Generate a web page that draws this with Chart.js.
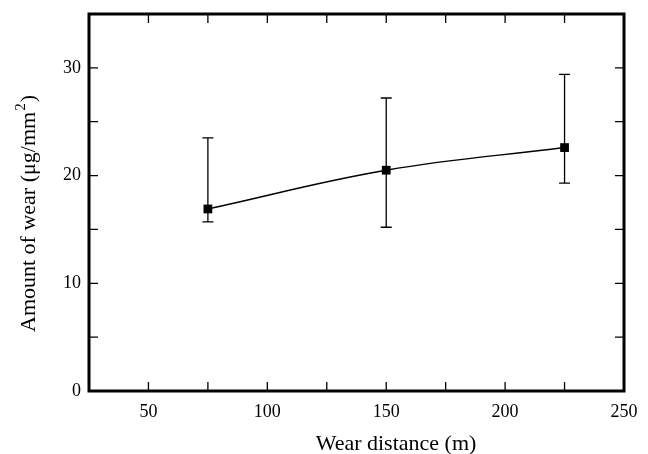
<!DOCTYPE html>
<html lang="en">
<head>
    <meta charset="UTF-8">
    <title>Amount of wear</title>
    <script src="https://cdn.jsdelivr.net/npm/chart.js"></script>
    <style>
        body { margin: 0; background: #fff; }
        #wrap { width: 648px; height: 454px; }
    </style>
</head>
<body>
    <div id="wrap"><canvas id="wearChart"></canvas></div>

    <script>
        // data
        const distance = [75, 150, 225];
        const wear = [16.9, 20.5, 22.6];
        const wearHigh = [23.5, 27.2, 29.4];
        const wearLow = [15.7, 15.2, 19.3];

        const xTitle = 'Wear distance (m)';
        const yTitle = ['Amount of wear (\u03bcg/mm', '2', ')'];

        const serif = '"Liberation Serif", "Times New Roman", serif';

        // frame, inward ticks on four sides, error bars, axis titles
        const framePlugin = {
            id: 'frame',
            beforeDatasetsDraw(chart) {
                const ctx = chart.ctx;
                const x = chart.scales.x, y = chart.scales.y;
                ctx.save();
                ctx.strokeStyle = '#000';
                ctx.lineWidth = 1.3;
                for (let i = 0; i < distance.length; i++) {
                    const px = x.getPixelForValue(distance[i]);
                    const top = y.getPixelForValue(wearHigh[i]);
                    const bot = y.getPixelForValue(wearLow[i]);
                    ctx.beginPath();
                    ctx.moveTo(px, top); ctx.lineTo(px, bot);
                    ctx.moveTo(px - 5.5, top); ctx.lineTo(px + 5.5, top);
                    ctx.moveTo(px - 5.5, bot); ctx.lineTo(px + 5.5, bot);
                    ctx.stroke();
                }
                ctx.restore();
            },
            afterDraw(chart) {
                const ctx = chart.ctx;
                const a = chart.chartArea;
                const x = chart.scales.x, y = chart.scales.y;
                const len = 9;
                ctx.save();
                ctx.strokeStyle = '#000';
                ctx.lineWidth = 1.3;
                ctx.beginPath();
                x.ticks.forEach(t => {
                    const px = x.getPixelForValue(t.value);
                    if (px <= a.left + 2 || px >= a.right - 2) return;
                    ctx.moveTo(px, a.bottom); ctx.lineTo(px, a.bottom - len);
                    ctx.moveTo(px, a.top); ctx.lineTo(px, a.top + len);
                });
                y.ticks.forEach(t => {
                    const py = y.getPixelForValue(t.value);
                    if (py <= a.top + 2 || py >= a.bottom - 2) return;
                    ctx.moveTo(a.left, py); ctx.lineTo(a.left + len, py);
                    ctx.moveTo(a.right, py); ctx.lineTo(a.right - len, py);
                });
                ctx.stroke();
                ctx.lineWidth = 3;
                ctx.strokeRect(a.left, a.top, a.right - a.left, a.bottom - a.top);

                // axis titles
                ctx.fillStyle = '#000';
                ctx.textBaseline = 'alphabetic';
                ctx.font = '22px ' + serif;
                ctx.textAlign = 'center';
                ctx.fillText(xTitle, 396, 450);

                ctx.translate(35, 332);
                ctx.rotate(-Math.PI / 2);
                ctx.textAlign = 'left';
                let off = 0;
                ctx.fillText(yTitle[0], off, 0);
                off += ctx.measureText(yTitle[0]).width + 1;
                ctx.font = '15px ' + serif;
                ctx.fillText(yTitle[1], off, -10);
                off += ctx.measureText(yTitle[1]).width + 1;
                ctx.font = '22px ' + serif;
                ctx.fillText(yTitle[2], off, 0);
                ctx.restore();
            }
        };

        const ctx = document.getElementById('wearChart').getContext('2d');
        new Chart(ctx, {
            type: 'line',
            data: {
                datasets: [{
                    data: distance.map((d, i) => ({ x: d, y: wear[i] })),
                    borderColor: '#000',
                    borderWidth: 1.4,
                    tension: 0.4,
                    pointStyle: 'rect',
                    pointRadius: 6.2,
                    pointBackgroundColor: '#000',
                    pointBorderWidth: 0
                }]
            },
            options: {
                responsive: true,
                maintainAspectRatio: false,
                animation: false,
                layout: { padding: { left: 0, right: 24, top: 14, bottom: 0 } },
                plugins: { legend: { display: false }, tooltip: { enabled: false } },
                scales: {
                    x: {
                        type: 'linear',
                        min: 25,
                        max: 250,
                        afterFit(s) { s.height = 63; s.paddingLeft = 0; s.paddingRight = 0; },
                        border: { display: false },
                        grid: { display: false, drawTicks: false },
                        ticks: {
                            stepSize: 25,
                            padding: 10,
                            color: '#000',
                            font: { family: serif, size: 18 },
                            callback: v => (v % 50 === 0 ? v : '')
                        }
                    },
                    y: {
                        min: 0,
                        max: 35,
                        afterFit(s) { s.width = 89; s.paddingTop = 0; s.paddingBottom = 0; },
                        border: { display: false },
                        grid: { display: false, drawTicks: false },
                        ticks: {
                            stepSize: 5,
                            padding: 8,
                            color: '#000',
                            font: { family: serif, size: 18 },
                            callback: v => (v % 10 === 0 ? v : '')
                        }
                    }
                }
            },
            plugins: [framePlugin]
        });
    </script>
</body>
</html>
